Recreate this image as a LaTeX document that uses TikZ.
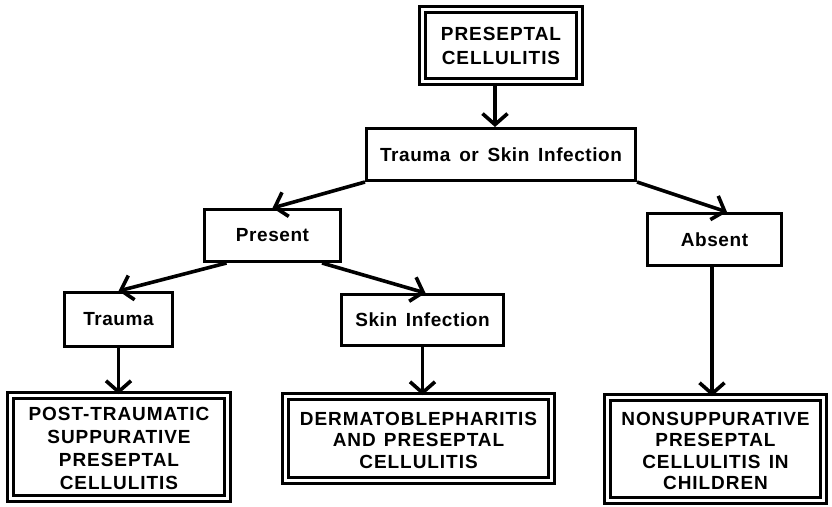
\documentclass[tikz,border=0pt]{standalone}
\usepackage{fontspec}
\usetikzlibrary{arrows.meta}
\newfontfamily\capfnt[LetterSpace=5,WordSpace=1.3]{Liberation Sans}
\newfontfamily\lowfnt[LetterSpace=3,WordSpace=1.5]{Liberation Sans}
\newcommand{\capfont}{\capfnt\bfseries\fontsize{19}{23}\selectfont}
\newcommand{\capfontb}{\capfnt\bfseries\fontsize{19}{21.5}\selectfont}
\newcommand{\lowfont}{\lowfnt\bfseries\fontsize{19}{24.5}\selectfont}
\tikzset{
  box/.style={draw, line width=3pt, inner sep=0pt, align=center, font=\lowfont},
  dbox/.style={draw, line width=2.6pt, double, double distance=3.4pt, inner sep=0pt},
  dtext/.style={inner sep=0pt, align=center, font=\capfont},
  arr/.style={line width=3.6pt, -{Straight Barb[length=11pt,width=25pt,line width=3.6pt]}}
}
\begin{document}
\begin{tikzpicture}[x=1pt,y=-1pt]
\useasboundingbox[fill=white] (0,0) rectangle (832,506);
% double boxes
\node[dbox, minimum width=157pt, minimum height=72pt] (top) at (501,45.5) {};
\node[dtext, font=\capfnt\bfseries\fontsize{19}{24}\selectfont] (toptext) at (top.center) {PRESEPTAL\\CELLULITIS};
\node[dbox, minimum width=217pt, minimum height=103pt] (pt) at (119,447) {};
\node[dtext] (pttext) at ([yshift=-1.5pt]pt.center) {POST-TRAUMATIC\\SUPPURATIVE\\PRESEPTAL\\CELLULITIS};
\node[dbox, minimum width=266pt, minimum height=84pt] (derm) at (418.5,438.5) {};
\node[dtext, font=\capfontb] (dermtext) at ([yshift=-1.5pt]derm.center) {DERMATOBLEPHARITIS\\AND PRESEPTAL\\CELLULITIS};
\node[dbox, minimum width=216pt, minimum height=103pt] (nons) at (715.5,449) {};
\node[dtext, font=\capfontb] (nonstext) at ([yshift=-2pt]nons.center) {NONSUPPURATIVE\\PRESEPTAL\\CELLULITIS IN\\CHILDREN};
% single boxes
\node[box, minimum width=269pt, minimum height=52pt] (tosi) at (501,154.5) {Trauma or Skin Infection};
\node[box, minimum width=136pt, minimum height=52pt] (present) at (272.5,235.5) {Present};
\node[box, minimum width=134pt, minimum height=52pt] (absent) at (714.5,239.5) {Absent};
\node[box, minimum width=108pt, minimum height=54pt] (trauma) at (118.5,319.5) {Trauma};
\node[box, minimum width=162pt, minimum height=51pt] (skin) at (422.5,320) {Skin Infection};
% connectors
\draw[arr] ([xshift=-6pt]top.south) -- ([xshift=-6pt]tosi.north);
\draw[arr] (tosi.south west) -- (present.north);
\draw[arr] (tosi.south east) -- ([xshift=12.5pt]absent.north);
\draw[arr] ([xshift=23.5pt]present.south west) -- (trauma.north);
\draw[arr] ([xshift=-20pt]present.south east) -- ([xshift=3pt]skin.north);
\draw[arr] (trauma.south) -- (trauma.south |- pt.north);
\draw[arr] (skin.south) -- (skin.south |- derm.north);
\draw[arr] ([xshift=-2.5pt]absent.south) -- ([xshift=-2.5pt]absent.south |- nons.north);
\end{tikzpicture}
\end{document}
